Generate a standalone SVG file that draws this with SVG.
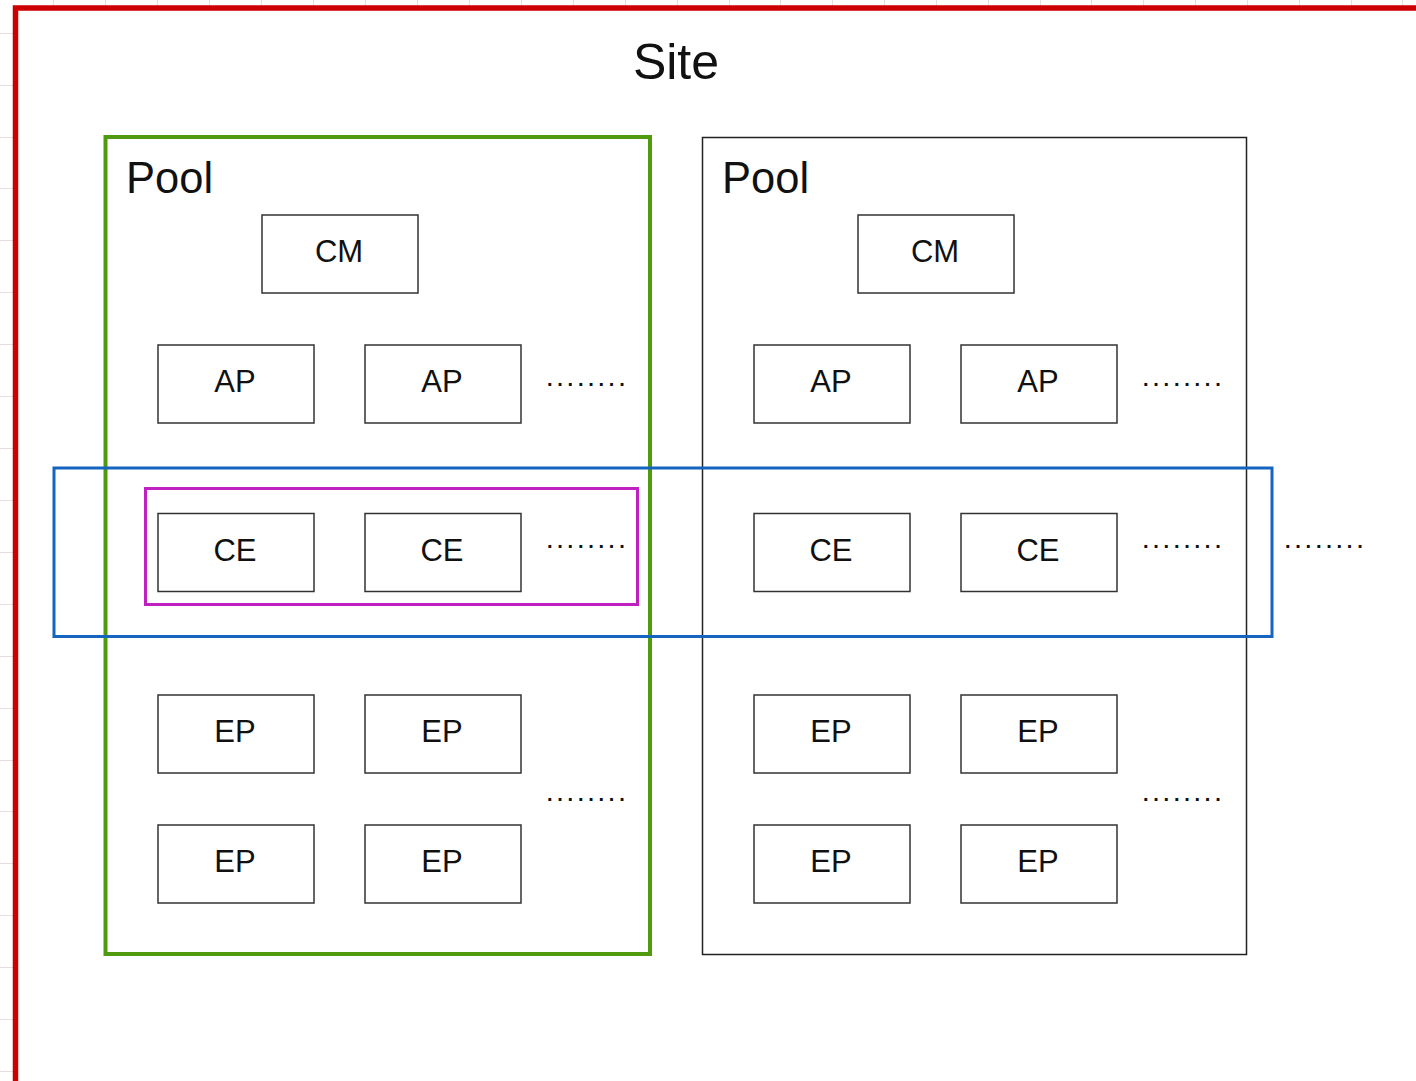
<svg xmlns="http://www.w3.org/2000/svg" width="1416" height="1081" viewBox="0 0 1416 1081">
  <style>
    .grid { stroke: #e6dede; stroke-width: 1; }
    .box { fill: #ffffff; stroke: #333333; stroke-width: 1.5; }
    .lbl { font-family: "Liberation Sans", Arial, sans-serif; font-size: 31px; fill: #111111; text-anchor: middle; }
    .title { font-family: "Liberation Sans", Arial, sans-serif; fill: #111111; }
    .dots { font-family: "Liberation Sans", Arial, sans-serif; font-size: 20px; letter-spacing: 4.75px; fill: #111111; font-weight: bold; }
  </style>
  <defs>
    <g id="boxShape">
      <rect class="box" x="0" y="0" width="156" height="78"/>
    </g>
  </defs>

  <rect x="0" y="0" width="1416" height="1081" fill="#ffffff"/>

  <!-- background grid showing in the margins -->
  <g id="grid">
    <path class="grid" d="M53.5 0V6 M105.5 0V6 M157.5 0V6 M209.5 0V6 M261.5 0V6 M313.5 0V6 M365.5 0V6 M417.5 0V6 M469.5 0V6 M521.5 0V6 M573.5 0V6 M625.5 0V6 M677.5 0V6 M729.5 0V6 M780.5 0V6 M832.5 0V6 M884.5 0V6 M936.5 0V6 M988.5 0V6 M1040.5 0V6 M1091.5 0V6 M1143.5 0V6 M1195.5 0V6 M1247.5 0V6 M1299.5 0V6 M1351.5 0V6 M1402.5 0V6"/>
    <path class="grid" d="M0 33.5H13 M0 85.5H13 M0 137.5H13 M0 188.5H13 M0 240.5H13 M0 292.5H13 M0 344.5H13 M0 396.5H13 M0 448.5H13 M0 500.5H13 M0 552.5H13 M0 604.5H13 M0 656.5H13 M0 708.5H13 M0 760.5H13 M0 811.5H13 M0 863.5H13 M0 915.5H13 M0 967.5H13 M0 1019.5H13 M0 1071.5H13"/>
  </g>

  <!-- site frame -->
  <g id="site">
    <rect x="15.5" y="8" width="1420" height="1078" fill="none" stroke="#cc0000" stroke-width="5.5"/>
    <text class="title" x="676" y="79" font-size="50" text-anchor="middle">Site</text>
  </g>

  <!-- pool 1 -->
  <g id="pool1">
    <rect x="105.5" y="137" width="544.5" height="817" fill="none" stroke="#4f9a0e" stroke-width="4"/>
    <text class="title" x="126" y="193" font-size="43.5">Pool</text>
  </g>

  <!-- pool 2 -->
  <g id="pool2">
    <rect x="702.5" y="137.5" width="544" height="817" fill="none" stroke="#222222" stroke-width="1.5"/>
    <text class="title" x="722" y="193" font-size="43.5">Pool</text>
  </g>

  <!-- compute element band across pools -->
  <g id="ceBand">
    <rect x="54" y="468" width="1218" height="168.5" fill="none" stroke="#1565c0" stroke-width="3"/>
  </g>
  <g id="ceGroup">
    <rect x="145.5" y="488.5" width="492" height="116" fill="none" stroke="#c020c0" stroke-width="3"/>
  </g>

  <!-- pool 1 nodes -->
  <g id="p1-cm"><use href="#boxShape" x="262" y="215"/><text class="lbl" x="339" y="262">CM</text></g>
  <g id="p1-ap1"><use href="#boxShape" x="158" y="345"/><text class="lbl" x="235" y="392">AP</text></g>
  <g id="p1-ap2"><use href="#boxShape" x="365" y="345"/><text class="lbl" x="442" y="392">AP</text></g>
  <g id="p1-ce1"><use href="#boxShape" x="158" y="513.5"/><text class="lbl" x="235" y="560.5">CE</text></g>
  <g id="p1-ce2"><use href="#boxShape" x="365" y="513.5"/><text class="lbl" x="442" y="560.5">CE</text></g>
  <g id="p1-ep1"><use href="#boxShape" x="158" y="695"/><text class="lbl" x="235" y="742">EP</text></g>
  <g id="p1-ep2"><use href="#boxShape" x="365" y="695"/><text class="lbl" x="442" y="742">EP</text></g>
  <g id="p1-ep3"><use href="#boxShape" x="158" y="825"/><text class="lbl" x="235" y="872">EP</text></g>
  <g id="p1-ep4"><use href="#boxShape" x="365" y="825"/><text class="lbl" x="442" y="872">EP</text></g>

  <!-- pool 2 nodes -->
  <g id="p2-cm"><use href="#boxShape" x="858" y="215"/><text class="lbl" x="935" y="262">CM</text></g>
  <g id="p2-ap1"><use href="#boxShape" x="754" y="345"/><text class="lbl" x="831" y="392">AP</text></g>
  <g id="p2-ap2"><use href="#boxShape" x="961" y="345"/><text class="lbl" x="1038" y="392">AP</text></g>
  <g id="p2-ce1"><use href="#boxShape" x="754" y="513.5"/><text class="lbl" x="831" y="560.5">CE</text></g>
  <g id="p2-ce2"><use href="#boxShape" x="961" y="513.5"/><text class="lbl" x="1038" y="560.5">CE</text></g>
  <g id="p2-ep1"><use href="#boxShape" x="754" y="695"/><text class="lbl" x="831" y="742">EP</text></g>
  <g id="p2-ep2"><use href="#boxShape" x="961" y="695"/><text class="lbl" x="1038" y="742">EP</text></g>
  <g id="p2-ep3"><use href="#boxShape" x="754" y="825"/><text class="lbl" x="831" y="872">EP</text></g>
  <g id="p2-ep4"><use href="#boxShape" x="961" y="825"/><text class="lbl" x="1038" y="872">EP</text></g>

  <!-- ellipsis marks -->
  <g id="ellipses">
    <text class="dots" x="547" y="386">........</text>
    <text class="dots" x="547" y="548">........</text>
    <text class="dots" x="547" y="801">........</text>
    <text class="dots" x="1143" y="386">........</text>
    <text class="dots" x="1143" y="548">........</text>
    <text class="dots" x="1143" y="801">........</text>
    <text class="dots" x="1285" y="548">........</text>
  </g>

  <!-- no connectors in this layout -->
  <g id="connectors"/>
</svg>
